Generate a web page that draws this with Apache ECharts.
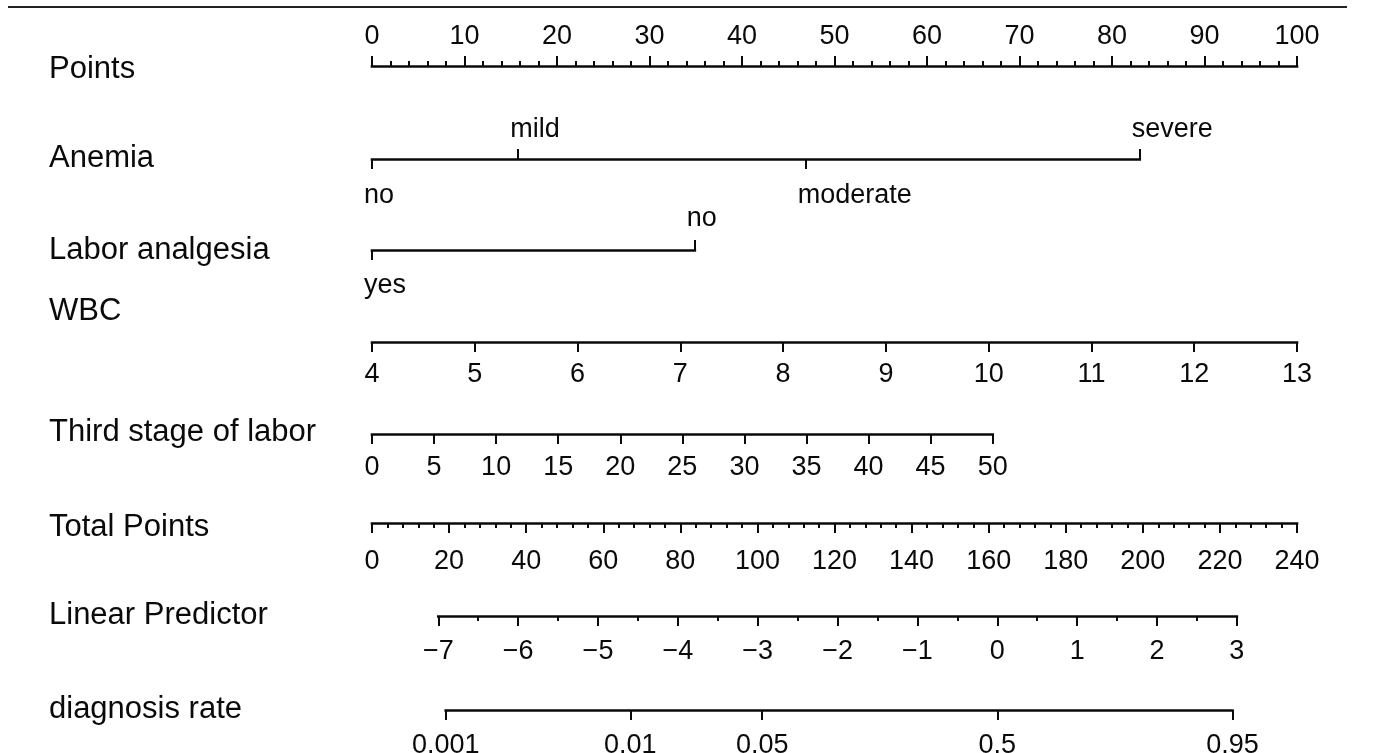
<!DOCTYPE html>
<html><head><meta charset="utf-8">
<script src="https://cdn.jsdelivr.net/npm/echarts@6/dist/echarts.min.js"></script>
<style>html,body{margin:0;padding:0;background:#fff}#c{width:1375px;height:753px}</style>
</head><body><div id="c"></div>
<script>
// ---------- data ----------
const rowLabels = ['Points','Anemia','Labor analgesia','WBC','Third stage of labor','Total Points','Linear Predictor','diagnosis rate'];
const pointsRange = [0, 100];
const anemiaLevels = ['no','mild','moderate','severe'];
const anemiaPoints = [0, 15.8, 46.9, 83.0];
const laborLevels = ['yes','no'];
const laborPoints = [0, 34.9];
const wbcRange = [4, 13];
const wbcPointsRange = [0, 100];
const thirdStageRange = [0, 50];
const thirdStagePointsRange = [0, 67.1];
const totalPointsRange = [0, 240];
const lpRange = [-7, 3];
const lpOnTotalPoints = [17.2, 224.4];
const diagRates = [0.001, 0.01, 0.05, 0.5, 0.95];

// ---------- layout ----------
const X0 = 372, X1 = 1297, PW = X1 - X0, W = 1375;
const FONT = "'Liberation Sans', Arial, Helvetica, sans-serif";
const INK = '#0a0a0a';
const ROW_FS = 31, TICK_FS = 27;
const rowLabelY = [69, 158, 250, 311, 432, 527, 615, 709];
const lineY = {points:66, anemia:159, labor:250, wbc:342, third:434, total:523, lp:616, diag:710};

const ptX = p => X0 + (p - pointsRange[0]) / (pointsRange[1] - pointsRange[0]) * PW;
const totX = t => X0 + (t - totalPointsRange[0]) / (totalPointsRange[1] - totalPointsRange[0]) * PW;
const lpLeft = totX(lpOnTotalPoints[0]), lpRight = totX(lpOnTotalPoints[1]);
const lpX = v => lpLeft + (v - lpRange[0]) / (lpRange[1] - lpRange[0]) * (lpRight - lpLeft);
const logit = p => Math.log(p / (1 - p));
const minusFmt = v => (v < 0 ? '\u2212' + Math.abs(v) : String(v));

const grids = [], xAxes = [], yAxes = [];
function addGrid(left, right, y) {
  grids.push({left: left, width: right - left, top: y, height: 0, containLabel: false});
  yAxes.push({gridIndex: grids.length - 1, show: false, min: 0, max: 1});
  return grids.length - 1;
}
function axis(gi, min, max, position, o) {
  o = o || {};
  return {
    type: 'value', gridIndex: gi, min: min, max: max, position: position,
    interval: o.interval, splitNumber: o.splitNumber,
    axisLine: {show: o.line !== false, onZero: false, lineStyle: {color: INK, width: 2.6, cap: 'square'}},
    axisTick: Object.assign({show: true, length: 10, lineStyle: {color: INK, width: 2}}, o.tick || {}),
    minorTick: o.minor ? {show: true, splitNumber: o.minor, length: 5, lineStyle: {color: INK, width: 2}} : {show: false},
    axisLabel: Object.assign({show: true, color: INK, fontSize: TICK_FS, fontFamily: FONT, margin: o.margin || 18,
      hideOverlap: false, showMinLabel: true, showMaxLabel: true}, o.label || {}),
    splitLine: {show: false}, minorSplitLine: {show: false}
  };
}

// Points
let g = addGrid(ptX(pointsRange[0]), ptX(pointsRange[1]), lineY.points);
xAxes.push(axis(g, pointsRange[0], pointsRange[1], 'top', {interval: 10, minor: 5, margin: 16}));

// Categorical rows
function catRow(levels, pts, y, mTop, mBot) {
  const gi = addGrid(ptX(0), ptX(Math.max.apply(null, pts)), y);
  const name = v => { let k = 0, d = Infinity; pts.forEach((p, i) => { if (Math.abs(p - v) < d) { d = Math.abs(p - v); k = i; } }); return levels[k]; };
  const below = pts.filter((p, i) => i % 2 === 0), above = pts.filter((p, i) => i % 2 === 1);
  const mn = Math.min.apply(null, pts), mx = Math.max.apply(null, pts);
  xAxes.push(axis(gi, mn, mx, 'bottom', {margin: mBot,
    tick: {customValues: below},
    label: {customValues: below, formatter: name, align: 'left', padding: [0, 0, 0, -8]}}));
  xAxes.push(axis(gi, mn, mx, 'top', {margin: mTop, line: false,
    tick: {customValues: above},
    label: {customValues: above, formatter: name, align: 'left', padding: [0, 0, 0, -8]}}));
}
catRow(anemiaLevels, anemiaPoints, lineY.anemia, 16, 23);
catRow(laborLevels, laborPoints, lineY.labor, 18, 22);

// WBC
g = addGrid(ptX(wbcPointsRange[0]), ptX(wbcPointsRange[1]), lineY.wbc);
xAxes.push(axis(g, wbcRange[0], wbcRange[1], 'bottom', {interval: 1, margin: 19}));

// Third stage of labor
g = addGrid(ptX(thirdStagePointsRange[0]), ptX(thirdStagePointsRange[1]), lineY.third);
xAxes.push(axis(g, thirdStageRange[0], thirdStageRange[1], 'bottom', {interval: 5, margin: 20}));

// Total points
g = addGrid(totX(totalPointsRange[0]), totX(totalPointsRange[1]), lineY.total);
xAxes.push(axis(g, totalPointsRange[0], totalPointsRange[1], 'bottom', {interval: 20, minor: 5, margin: 25}));

// Linear predictor
g = addGrid(lpLeft, lpRight, lineY.lp);
xAxes.push(axis(g, lpRange[0], lpRange[1], 'bottom', {interval: 1, minor: 2, margin: 22, label: {formatter: minusFmt}}));

// diagnosis rate
const diagVals = diagRates.map(logit);
const dMin = Math.min.apply(null, diagVals), dMax = Math.max.apply(null, diagVals);
g = addGrid(lpX(dMin), lpX(dMax), lineY.diag);
xAxes.push(axis(g, dMin, dMax, 'bottom', {margin: 22,
  tick: {customValues: diagVals},
  label: {customValues: diagVals, formatter: v => {
    let k = 0, d = Infinity; diagVals.forEach((x, i) => { if (Math.abs(x - v) < d) { d = Math.abs(x - v); k = i; } });
    return String(diagRates[k]); }}}));

const graphic = [{
  type: 'line', shape: {x1: 8, y1: 7, x2: 1347, y2: 7}, style: {stroke: '#222', lineWidth: 2}
}].concat(rowLabels.map((t, i) => ({
  type: 'text', x: 49, y: rowLabelY[i],
  style: {text: t, fill: INK, fontSize: ROW_FS, fontFamily: FONT, verticalAlign: 'middle', align: 'left'}
})));

const chart = echarts.init(document.getElementById('c'), null, {renderer: 'canvas'});
chart.setOption({
  animation: false,
  backgroundColor: '#fff',
  grid: grids, xAxis: xAxes, yAxis: yAxes,
  graphic: graphic,
  series: []
});
</script></body></html>
